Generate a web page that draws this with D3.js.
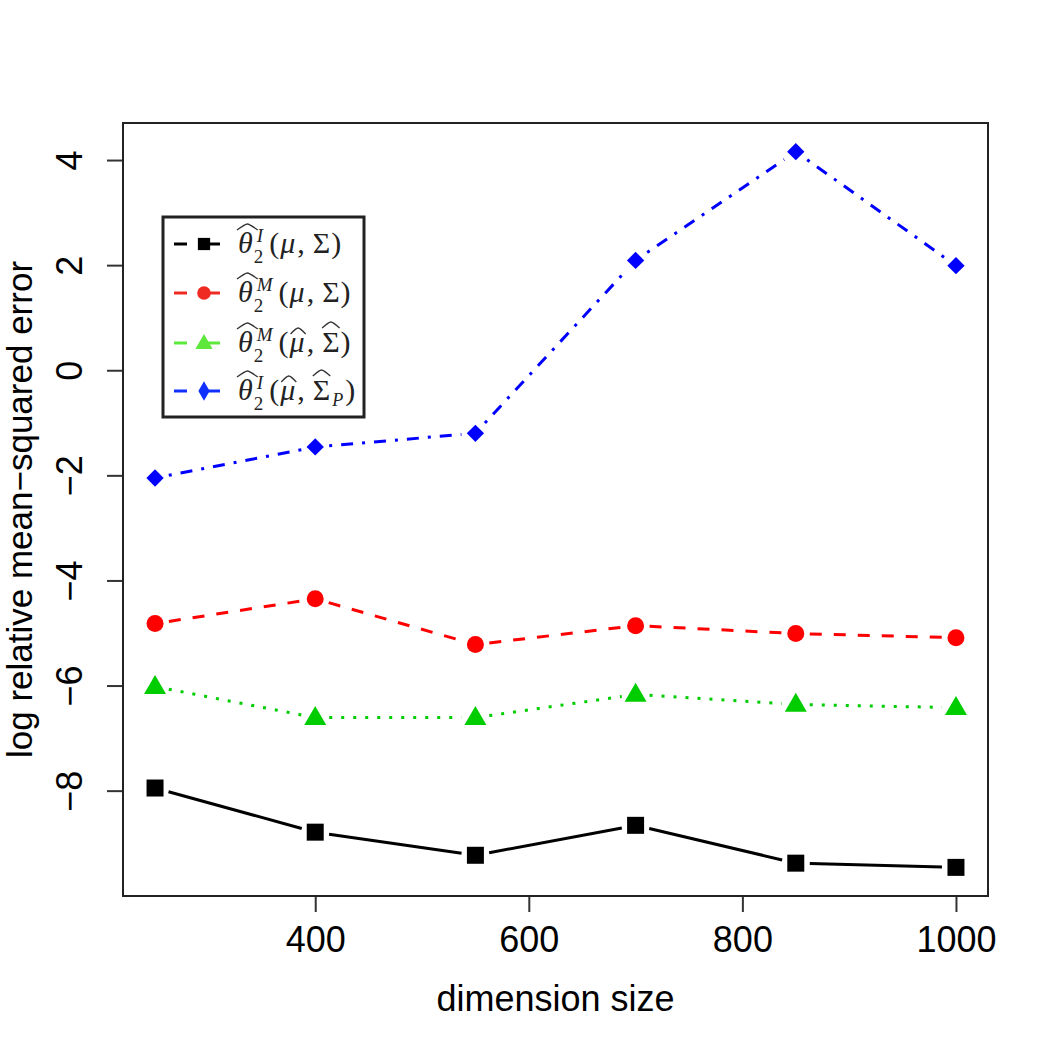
<!DOCTYPE html>
<html>
<head>
<meta charset="utf-8">
<style>
  body { margin: 0; background: #fff; }
  svg { display: block; }
  .tick-label, .axis-title { font-family: "Liberation Sans", Arial, Helvetica, sans-serif; fill: #000; }
  .math { font-family: "Liberation Serif", "DejaVu Serif", serif; fill: #222; }
</style>
</head>
<body>
<div id="chart"></div>
<script src="https://d3js.org/d3.v7.min.js"></script>
<script>
'use strict';

// data
var dims = [250, 400, 550, 700, 850, 1000];
var blackVals = [-7.95, -8.79, -9.23, -8.66, -9.38, -9.46];
var redVals = [-4.82, -4.35, -5.22, -4.86, -5.01, -5.09];
var greenVals = [-6.02, -6.61, -6.61, -6.17, -6.36, -6.42];
var blueVals = [-2.05, -1.46, -1.20, 2.09, 4.16, 1.99];
var xTicks = [400, 600, 800, 1000];
var yTicks = [-8, -6, -4, -2, 0, 2, 4];

var width = 1050, height = 1050;
var plotLeft = 123, plotRight = 988, plotTop = 123, plotBottom = 896;

var series = [
  { vals: blackVals, color: '#000', legendColor: '#000', dash: null, shape: 'square',
    sup: 'I', muHat: false, sigHat: false, sigSub: '' },
  { vals: redVals, color: '#ff0000', legendColor: '#ee2a22', dash: '12,12', shape: 'circle',
    sup: 'M', muHat: false, sigHat: false, sigSub: '' },
  { vals: greenVals, color: '#00cd00', legendColor: '#5ee83c', dash: '3,9', shape: 'triangle',
    sup: 'M', muHat: true, sigHat: true, sigSub: '' },
  { vals: blueVals, color: '#0000ff', legendColor: '#1030ff', dash: '3,9,12,9', shape: 'diamond',
    sup: 'I', muHat: true, sigHat: false, sigSub: 'P' }
];

// R style: data range padded by 4% on each side
function padded(ext) {
  var d = (ext[1] - ext[0]) * 0.04;
  return [ext[0] - d, ext[1] + d];
}
var allY = d3.merge(series.map(function(s) { return s.vals; }));

var x = d3.scaleLinear().domain(padded(d3.extent(dims))).range([plotLeft, plotRight]);
var y = d3.scaleLinear().domain(padded(d3.extent(allY))).range([plotBottom, plotTop]);

var svg = d3.select('#chart').append('svg')
  .attr('width', width).attr('height', height);

svg.append('rect').attr('width', width).attr('height', height).attr('fill', '#fff');

// axes
var xAxis = svg.append('g').attr('transform', 'translate(0,' + plotBottom + ')')
  .call(d3.axisBottom(x).tickValues(xTicks).tickSize(16).tickPadding(10).tickFormat(d3.format('d')));
xAxis.select('.domain').remove();
xAxis.selectAll('line').attr('stroke', '#333').attr('stroke-width', 2);
xAxis.selectAll('text').attr('class', 'tick-label').attr('font-size', 36)
  .attr('dy', null).attr('y', 56);

var yAxis = svg.append('g').attr('transform', 'translate(' + plotLeft + ',0)')
  .call(d3.axisLeft(y).tickValues(yTicks).tickSize(16).tickFormat(function(d) {
    return d < 0 ? '\u2212' + Math.abs(d) : d;
  }));
yAxis.select('.domain').remove();
yAxis.selectAll('line').attr('stroke', '#333').attr('stroke-width', 2);
yAxis.selectAll('text').attr('class', 'tick-label').attr('font-size', 36)
  .attr('x', null).attr('dy', null)
  .attr('text-anchor', 'middle')
  .attr('transform', 'translate(-41,0) rotate(-90)');

// frame
svg.append('rect')
  .attr('x', plotLeft).attr('y', plotTop)
  .attr('width', plotRight - plotLeft).attr('height', plotBottom - plotTop)
  .attr('fill', 'none').attr('stroke', '#222').attr('stroke-width', 2);

// axis titles
svg.append('text').attr('class', 'axis-title')
  .attr('x', (plotLeft + plotRight) / 2).attr('y', 1011)
  .attr('text-anchor', 'middle').attr('font-size', 36)
  .text('dimension size');

svg.append('text').attr('class', 'axis-title')
  .attr('transform', 'translate(32,' + ((plotTop + plotBottom) / 2) + ') rotate(-90)')
  .attr('text-anchor', 'middle').attr('font-size', 35)
  .text('log relative mean\u2212squared error');

function symbolPath(shape, scale) {
  scale = scale || 1;
  if (shape === 'square') return d3.symbol(d3.symbolSquare, 289 * scale * scale)();
  if (shape === 'circle') return d3.symbol(d3.symbolCircle, 227 * scale * scale)();
  if (shape === 'triangle') return d3.symbol(d3.symbolTriangle, 210 * scale * scale)();
  return d3.symbol(d3.symbolSquare, 150 * scale * scale)();
}

// lines with a gap around each point (type = "b")
var gap = 14;
series.forEach(function(s) {
  var g = svg.append('g');
  for (var i = 0; i < dims.length - 1; i++) {
    var x1 = x(dims[i]), y1 = y(s.vals[i]);
    var x2 = x(dims[i + 1]), y2 = y(s.vals[i + 1]);
    var len = Math.hypot(x2 - x1, y2 - y1);
    var ux = (x2 - x1) / len, uy = (y2 - y1) / len;
    g.append('line')
      .attr('x1', x1 + ux * gap).attr('y1', y1 + uy * gap)
      .attr('x2', x2 - ux * gap).attr('y2', y2 - uy * gap)
      .attr('stroke', s.color).attr('stroke-width', 3)
      .attr('stroke-dasharray', s.dash);
  }
  g.selectAll('path.pt').data(s.vals).enter().append('path')
    .attr('class', 'pt')
    .attr('d', symbolPath(s.shape))
    .attr('fill', s.color)
    .attr('transform', function(d, i) {
      var t = 'translate(' + x(dims[i]) + ',' + y(d) + ')';
      if (s.shape === 'diamond') t += ' rotate(45)';
      if (s.shape === 'triangle') t += ' translate(0,1)';
      return t;
    });
});

// legend
var lg = svg.append('g');
lg.append('rect')
  .attr('x', 163).attr('y', 217).attr('width', 201).attr('height', 200)
  .attr('fill', '#fff').attr('stroke', '#222').attr('stroke-width', 3);

var rowY = [244, 293, 343, 391];

function piece(g, px, py, txt, size, italic) {
  var t = g.append('text').attr('class', 'math')
    .attr('x', px).attr('y', py)
    .attr('font-size', size)
    .attr('font-style', italic ? 'italic' : 'normal')
    .text(txt);
  return t.node().getComputedTextLength();
}
function hat(g, x1, x2, yb, h) {
  var xm = (x1 + x2) / 2;
  g.append('path')
    .attr('d', 'M' + x1 + ',' + yb + ' Q' + (xm - 2) + ',' + (yb - h) + ' ' + xm + ',' + (yb - h) +
      ' Q' + (xm + 2) + ',' + (yb - h) + ' ' + x2 + ',' + yb)
    .attr('fill', 'none').attr('stroke', '#333').attr('stroke-width', 1.3);
}

series.forEach(function(s, i) {
  var cy = rowY[i];
  var g = lg.append('g');
  g.append('line').attr('x1', 174).attr('x2', 187).attr('y1', cy).attr('y2', cy)
    .attr('stroke', s.legendColor).attr('stroke-width', 3);
  g.append('line').attr('x1', 204).attr('x2', 220).attr('y1', cy).attr('y2', cy)
    .attr('stroke', s.legendColor).attr('stroke-width', 3);
  var ls = s.shape === 'square' ? 0.72 : s.shape === 'circle' ? 0.8 : s.shape === 'triangle' ? 0.78 : 0.8;
  g.append('path')
    .attr('d', s.shape === 'diamond' ? d3.symbol(d3.symbolDiamond, 110)() : symbolPath(s.shape, ls))
    .attr('fill', s.legendColor)
    .attr('transform', 'translate(204,' + (cy + (s.shape === 'triangle' ? 1 : 0)) + ')');

  var by = cy + 9, px = 238;
  var w = piece(g, px, by, '\u03b8', 30, true);
  hat(g, px - 1, px + w + 5, by - 23, 6);
  px += w + 1;
  var ws = piece(g, px + 3, by - 11, s.sup, 19, true);
  var wb = piece(g, px, by + 10, '2', 19, false);
  px += Math.max(ws + 3, wb) + 6;
  px += piece(g, px, by, '(', 30, false) + 1;
  var wm = piece(g, px, by, '\u03bc', 30, true);
  if (s.muHat) hat(g, px + 1, px + wm + 1, by - 18, 6);
  px += wm + 2;
  px += piece(g, px, by, ',', 30, false) + 8;
  var wS = piece(g, px, by, '\u03a3', 30, false);
  if (s.sigHat || s.sigSub) hat(g, px, px + wS, by - 24, 6);
  px += wS + 1;
  if (s.sigSub) px += piece(g, px + 1, by + 6, s.sigSub, 18, true) + 3;
  piece(g, px, by, ')', 30, false);
});
</script>
</body>
</html>
